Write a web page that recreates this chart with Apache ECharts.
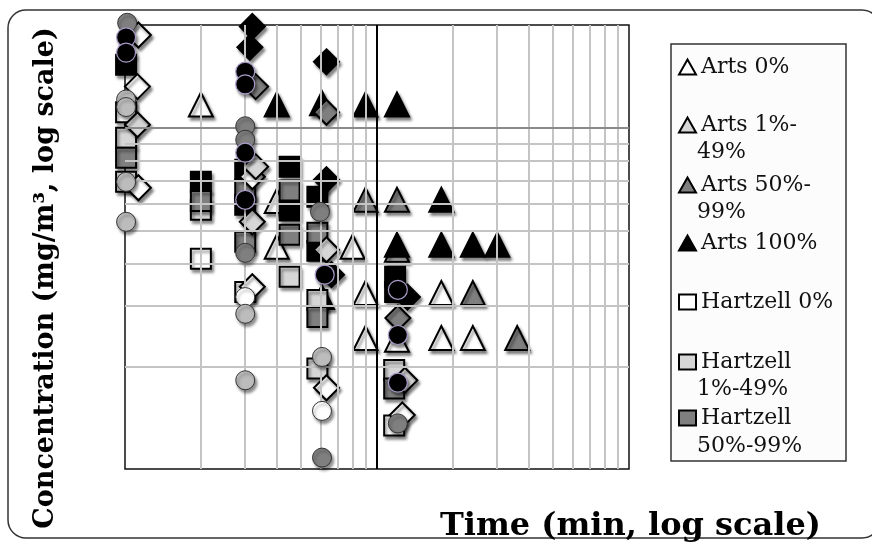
<!DOCTYPE html>
<html>
<head>
<meta charset="utf-8">
<script src="https://cdn.jsdelivr.net/npm/echarts@6/dist/echarts.min.js"></script>
<style>html,body{margin:0;padding:0;background:#fff;}#c{width:872px;height:545px;}</style>
</head>
<body>
<div id="c"></div>
<script>
// ---- data (time in min, concentration in mg/m3) ----
const artsWhite = [[2.0,11.7],[4.0,6.1],[4.0,4.48],[8.0,4.48],[12.0,4.39],[9.0,3.28],[18,3.28],[9.0,2.42],[12.0,2.39],[18,2.42],[24,2.42]];
const artsLight = [];
const artsGray = [[9.0,6.15],[12,6.15],[24,3.28],[36,2.42]];
const artsBlack = [[4.0,11.7],[6.05,11.8],[9.0,11.7],[12,11.7],[18,6.15],[12,4.54],[18,4.54],[24,4.54],[30,4.54],[6.05,3.19]];
const hartBlack = [[1.01,15.3],[2.0,6.94],[4.5,7.69],[4.5,5.72],[3.0,7.53],[3.0,5.95],[5.8,6.28],[5.8,4.36],[11.8,3.66],[11.8,3.30]];
const hartWhite = [[2.0,4.13],[3.0,3.30],[11.7,1.34],[1.01,6.94],[1.01,11.1]];
const hartLight = [[1.01,9.35],[2.0,5.75],[4.5,3.66],[5.8,3.13],[5.8,1.97],[11.7,1.95]];
const hartGray = [[1.01,8.17],[2.0,6.1],[4.5,6.55],[4.5,4.86],[3.0,6.58],[3.0,4.63],[5.8,4.92],[5.8,2.79],[11.7,1.72]];
const diaWhite = [[1.13,18.7],[1.12,13.2],[1.13,6.67],[3.2,7.18],[3.2,3.42],[6.3,1.73],[12.6,1.44]];
const diaLight = [[1.12,10.2],[3.3,7.69],[3.2,5.3],[6.3,4.39],[12.9,1.82]];
const diaGray = [[3.3,13.2],[6.3,11.1],[12.1,2.77]];
const diaBlack = [[3.2,19.8],[3.13,17.2],[6.3,15.6],[6.3,7.04],[6.6,3.71],[13.2,3.19]];
const cirWhite = [[3.0,3.19],[6.05,1.48]];
const cirLight = [[1.01,12.1],[1.01,11.5],[1.01,6.94],[1.01,5.3],[3.0,2.85],[3.0,1.82],[6.05,2.13]];
const cirGray = [[1.02,20.3],[3.0,10.1],[3.0,9.22],[3.0,4.3],[5.94,5.67],[6.05,1.08],[12.1,1.36]];
const cirBlack = [[1.01,18.4],[1.01,16.6],[3.0,14.6],[3.0,13.4],[3.0,8.45],[3.0,6.15],[6.2,3.71],[12.1,3.35],[12.1,2.47],[12.1,1.79]];
const xMinorTicks = [2,3,4,5,6,7,8,9,20,30,40,50,60,70,80,90];
const xMajorTicks = [10];
const yMinorTicks = [2,3,4,5,6,7,8,9];
const yMajorTicks = [10];
const legendNames = ['Arts 0%','Arts 1%-49%','Arts 50%-99%','Arts 100%','Hartzell 0%','Hartzell 1%-49%','Hartzell 50%-99%'];
const legendFirst = ['Arts 0%','Arts 1%-','Arts 50%-','Arts 100%','Hartzell 0%','Hartzell','Hartzell'];
const legendSecond = ['','49%','99%','','','1%-49%','50%-99%'];
// ---- style ----
const WHITE='#ffffff', LIGHT='#d6d6d6', CLIGHT='#bcbcbc', GRAY='#7f7f7f', BLACK='#000000';
const legendIconY = [62,120,180,238,297,357,413];
const legendSecondY = [0,152,212,0,0,389,446];

function mk(name, symbol, size, color, data, borderColor, borderWidth, z){
  return {
    name, type:'scatter', symbol, symbolSize:size, data, clip:false, z: z,
    itemStyle:{color, borderColor, borderWidth, opacity:1,
      shadowBlur:3, shadowOffsetX:2, shadowOffsetY:3, shadowColor:'rgba(0,0,0,0.45)'},
    emphasis:{disabled:true}
  };
}
const series = [
  {name:'grid', type:'scatter', data:[], z:1, silent:true,
   markLine:{silent:true, symbol:['none','none'], label:{show:false}, animation:false,
     data:[
       ...xMinorTicks.map(v=>({xAxis:v, lineStyle:{color:'#c4c4c4', width:2, type:'solid'}})),
       ...yMinorTicks.map(v=>({yAxis:v, lineStyle:{color:'#c4c4c4', width:2, type:'solid'}})),
       ...yMajorTicks.map(v=>({yAxis:v, lineStyle:{color:'#8a8a8a', width:2, type:'solid'}})),
       ...xMajorTicks.map(v=>({xAxis:v, lineStyle:{color:'#000', width:2, type:'solid'}}))
     ]}},
  mk('Arts 0%','triangle',24,WHITE,artsWhite,'#000',2,2),
  mk('Arts 1%-49%','triangle',24,LIGHT,artsLight,'#000',2,2),
  mk('Arts 50%-99%','triangle',24,GRAY,artsGray,'#000',2,2),
  mk('Arts 100%','triangle',24,BLACK,artsBlack,'#000',2,2),
  mk('Hartzell 100%','rect',20,BLACK,hartBlack,'#000',2,3),
  mk('Hartzell 0%','rect',20,WHITE,hartWhite,'#000',2,3),
  mk('Hartzell 1%-49%','rect',20,LIGHT,hartLight,'#000',2,3),
  mk('Hartzell 50%-99%','rect',20,GRAY,hartGray,'#000',2,3),
  mk('Other 0%','diamond',25,WHITE,diaWhite,'#000',2,4),
  mk('Other 1%-49%','diamond',25,LIGHT,diaLight,'#000',2,4),
  mk('Other 50%-99%','diamond',25,GRAY,diaGray,'#000',2,4),
  mk('Other 100%','diamond',25,BLACK,diaBlack,'#000',2,4),
  mk('Circle 0%','circle',19,WHITE,cirWhite,'#333',1,5),
  mk('Circle 1%-49%','circle',19,CLIGHT,cirLight,'#333',1,5),
  mk('Circle 50%-99%','circle',19,GRAY,cirGray,'#333',1,5),
  mk('Circle 100%','circle',19,BLACK,cirBlack,'#a99cc9',1.2,5)
];
const legendIcons = ['triangle','triangle','triangle','triangle','rect','rect','rect'];
const legends = legendNames.map((n,i)=>({
  left:673, top:legendIconY[i]-12, orient:'vertical', selectedMode:false,
  itemWidth:17, itemHeight:15,
  data:[{name:n, icon:legendIcons[i]}],
  formatter:()=>legendFirst[i],
  itemStyle:{borderColor:'#000', borderWidth:2, shadowBlur:0, shadowColor:'rgba(0,0,0,0)', shadowOffsetX:0, shadowOffsetY:0},
  textStyle:{fontFamily:'DejaVu Serif', fontSize:22, color:'#111', lineHeight:24}
}));
const graphics = [
  {type:'rect', shape:{x:8,y:10,width:872,height:528,r:18}, style:{fill:'none', stroke:'#333', lineWidth:1.5}, z:0, silent:true},
  {type:'rect', shape:{x:671,y:44,width:175,height:417}, style:{fill:'#fcfcfc', stroke:'#333', lineWidth:1.5}, z:0, silent:true},
  {type:'text', x:440, y:527, style:{text:'Time (min, log scale)', font:'bold 32px "DejaVu Serif"', fill:'#000', textVerticalAlign:'middle'}, z:5},
  {type:'text', x:46, y:278, rotation:Math.PI/2, style:{text:'Concentration (mg/m³, log scale)', font:'bold 27px "DejaVu Serif"', fill:'#000', textAlign:'center', textVerticalAlign:'middle'}, z:5}
];
legendSecond.forEach((t,i)=>{ if(t){ graphics.push({type:'text', x:697, y:legendSecondY[i], style:{text:t, font:'22px "DejaVu Serif"', fill:'#111', textVerticalAlign:'middle'}, z:5}); }});

const chart = echarts.init(document.getElementById('c'), null, {renderer:'canvas'});
chart.setOption({
  animation:false,
  backgroundColor:'#fff',
  grid:{left:125, top:25, width:504, height:444, show:true, borderColor:'#111', borderWidth:1.5, backgroundColor:'#fff'},
  xAxis:{type:'log', logBase:10, min:1, max:100, axisLabel:{show:false}, axisTick:{show:false}, splitLine:{show:false}, axisLine:{show:false}},
  yAxis:{type:'log', logBase:10, min:1, max:20, axisLabel:{show:false}, axisTick:{show:false}, splitLine:{show:false}, axisLine:{show:false}},
  legend:legends,
  graphic:graphics,
  series
});
</script>
</body>
</html>
